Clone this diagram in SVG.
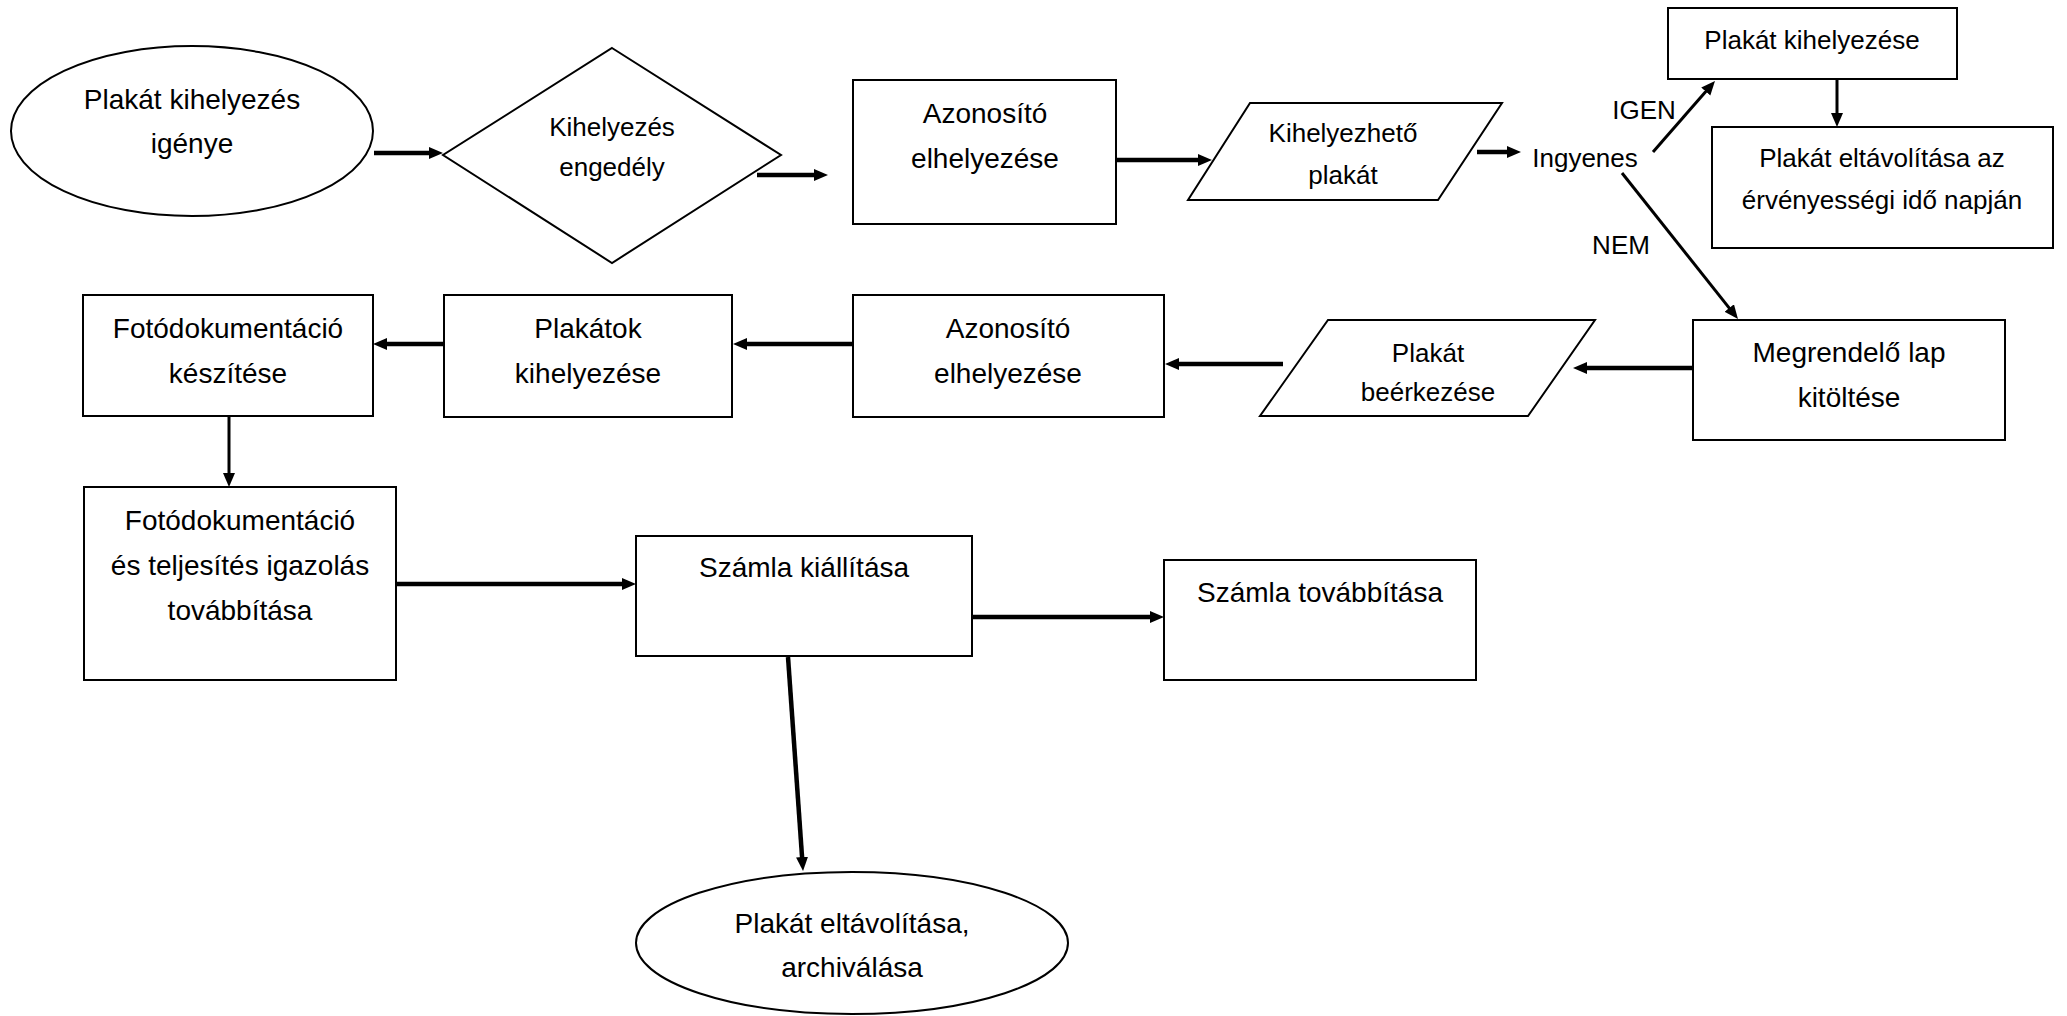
<svg xmlns="http://www.w3.org/2000/svg" width="2067" height="1016" viewBox="0 0 2067 1016">
<style>
.shape{fill:#fff;stroke:#000;stroke-width:2}
.t{font-family:"Liberation Sans",Arial,sans-serif;font-size:28px;fill:#000;text-anchor:middle}
.s{font-size:26px}
.c{fill:none;stroke:#000;stroke-width:4.5}
.thin{stroke-width:3}
</style>
<defs>
<marker id="ah" markerUnits="userSpaceOnUse" markerWidth="16" markerHeight="14" refX="2" refY="6" orient="auto">
<path d="M0,0 L14,6 L0,12 z" fill="#000"/>
</marker>
</defs>
<rect width="2067" height="1016" fill="#fff"/>
<g id="n1"><ellipse class="shape" cx="192" cy="131" rx="181" ry="85"/>
<text class="t" x="192" y="109">Plakát kihelyezés</text><text class="t" x="192" y="153">igénye</text></g>
<g id="n2"><polygon class="shape" points="612,48 781,155 612,263 443,155"/>
<text class="t s" x="612" y="136">Kihelyezés</text><text class="t s" x="612" y="176">engedély</text></g>
<g id="n3"><rect class="shape" x="853" y="80" width="263" height="144"/>
<text class="t" x="985" y="123">Azonosító</text><text class="t" x="985" y="168">elhelyezése</text></g>
<g id="n4"><polygon class="shape" points="1250,103 1502,103 1438,200 1188,200"/>
<text class="t s" x="1343" y="142">Kihelyezhető</text><text class="t s" x="1343" y="184">plakát</text></g>
<g id="n5"><text class="t s" x="1585" y="167">Ingyenes</text></g>
<g id="n6"><rect class="shape" x="1668" y="8" width="289" height="71"/>
<text class="t s" x="1812" y="49">Plakát kihelyezése</text></g>
<g id="n7"><rect class="shape" x="1712" y="127" width="341" height="121"/>
<text class="t s" x="1882" y="167">Plakát eltávolítása az</text><text class="t s" x="1882" y="209">érvényességi idő napján</text></g>
<g id="n8"><rect class="shape" x="1693" y="320" width="312" height="120"/>
<text class="t" x="1849" y="362">Megrendelő lap</text><text class="t" x="1849" y="407">kitöltése</text></g>
<g id="n9"><polygon class="shape" points="1328,320 1595,320 1528,416 1260,416"/>
<text class="t s" x="1428" y="362">Plakát</text><text class="t s" x="1428" y="401">beérkezése</text></g>
<g id="n10"><rect class="shape" x="853" y="295" width="311" height="122"/>
<text class="t" x="1008" y="338">Azonosító</text><text class="t" x="1008" y="383">elhelyezése</text></g>
<g id="n11"><rect class="shape" x="444" y="295" width="288" height="122"/>
<text class="t" x="588" y="338">Plakátok</text><text class="t" x="588" y="383">kihelyezése</text></g>
<g id="n12"><rect class="shape" x="83" y="295" width="290" height="121"/>
<text class="t" x="228" y="338">Fotódokumentáció</text><text class="t" x="228" y="383">készítése</text></g>
<g id="n13"><rect class="shape" x="84" y="487" width="312" height="193"/>
<text class="t" x="240" y="530">Fotódokumentáció</text><text class="t" x="240" y="575">és teljesítés igazolás</text><text class="t" x="240" y="620">továbbítása</text></g>
<g id="n14"><rect class="shape" x="636" y="536" width="336" height="120"/>
<text class="t" x="804" y="577">Számla kiállítása</text></g>
<g id="n15"><rect class="shape" x="1164" y="560" width="312" height="120"/>
<text class="t" x="1320" y="602">Számla továbbítása</text></g>
<g id="n16"><ellipse class="shape" cx="852" cy="943" rx="216" ry="71"/>
<text class="t" x="852" y="933">Plakát eltávolítása,</text><text class="t" x="852" y="977">archiválása</text></g>
<g id="connectors">
<line class="c" x1="374" y1="153" x2="431" y2="153" marker-end="url(#ah)"/>
<line class="c" x1="757" y1="175" x2="816" y2="175" marker-end="url(#ah)"/>
<line class="c" x1="1116" y1="160" x2="1200" y2="160" marker-end="url(#ah)"/>
<line class="c" x1="1477" y1="152" x2="1509" y2="152" marker-end="url(#ah)"/>
<line class="c thin" x1="1653" y1="152" x2="1707.1" y2="90" marker-end="url(#ah)"/>
<line class="c thin" x1="1837" y1="79" x2="1837" y2="115" marker-end="url(#ah)"/>
<line class="c thin" x1="1622" y1="173" x2="1730.5" y2="309.6" marker-end="url(#ah)"/>
<line class="c" x1="1692" y1="368" x2="1585" y2="368" marker-end="url(#ah)"/>
<line class="c" x1="1283" y1="364" x2="1177" y2="364" marker-end="url(#ah)"/>
<line class="c" x1="852" y1="344" x2="745" y2="344" marker-end="url(#ah)"/>
<line class="c" x1="443" y1="344" x2="385" y2="344" marker-end="url(#ah)"/>
<line class="c thin" x1="229" y1="416" x2="229" y2="475" marker-end="url(#ah)"/>
<line class="c" x1="396" y1="584" x2="624" y2="584" marker-end="url(#ah)"/>
<line class="c" x1="972" y1="617" x2="1152" y2="617" marker-end="url(#ah)"/>
<line class="c" x1="788" y1="657" x2="802.2" y2="859" marker-end="url(#ah)"/>
<text class="t s" x="1644" y="119">IGEN</text>
<text class="t s" x="1621" y="254">NEM</text>
</g>
</svg>
